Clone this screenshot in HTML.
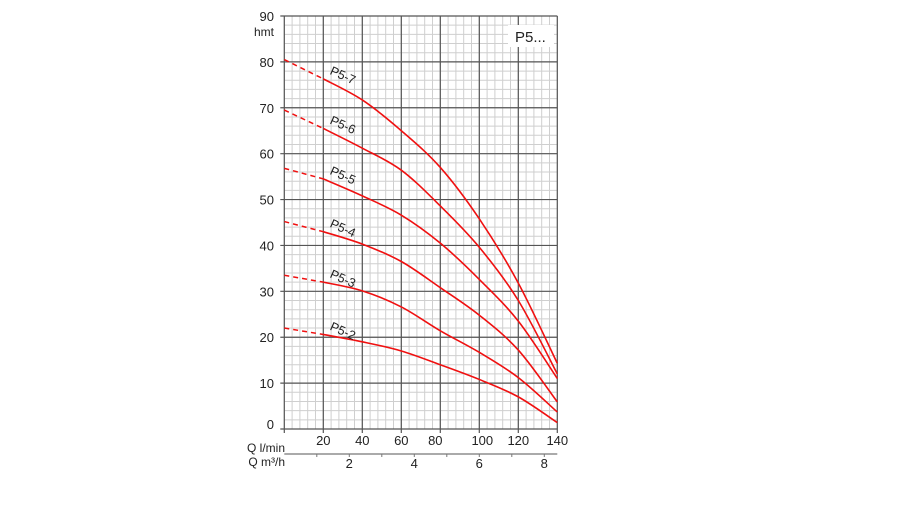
<!DOCTYPE html>
<html><head><meta charset="utf-8"><style>
body{margin:0;background:#fff;width:900px;height:506px;overflow:hidden}
text{font-family:"Liberation Sans",Arial,sans-serif;fill:#222}
</style></head><body>
<svg id="chart" width="900" height="506" viewBox="0 0 900 506" xmlns="http://www.w3.org/2000/svg">
<g id="grid"></g>
<g id="curves"></g>
<g id="axes"></g>
<rect x="508" y="25" width="46" height="22" fill="#fff"/>
<text x="515" y="42" font-size="15">P5...</text>
</svg>
<script>
const flows = [0, 20, 40, 60, 80, 100, 120, 140];
const seriesNames = ["P5-7","P5-6","P5-5","P5-4","P5-3","P5-2"];
const p57 = [80.5, 76.3, 71.7, 65.0, 57.0, 45.8, 31.8, 14.3];
const p56 = [69.5, 65.5, 61.2, 56.4, 48.6, 39.6, 28.0, 12.0];
const p55 = [56.8, 54.5, 50.8, 46.6, 40.5, 32.6, 23.5, 11.0];
const p54 = [45.2, 43.0, 40.3, 36.5, 30.8, 24.8, 17.2, 5.9];
const p53 = [33.5, 32.0, 30.1, 26.6, 21.4, 16.7, 11.2, 3.7];
const p52 = [22.0, 20.6, 19.0, 17.0, 14.0, 10.8, 7.0, 1.4];
const yTicks = [0,10,20,30,40,50,60,70,80,90];
const xTicks = [20,40,60,80,100,120,140];
const m3Ticks = [2,4,6,8];

const X0=284.3,X1=557.3,Y0=429,Y1=16;
const sx=q=>X0+(q/140)*(X1-X0);
const sy=h=>Y0-(h/90)*(Y0-Y1);
const NS="http://www.w3.org/2000/svg";
function mk(tag,attrs,parent){const e=document.createElementNS(NS,tag);for(const k in attrs)e.setAttribute(k,attrs[k]);parent.appendChild(e);return e;}
const grid=document.getElementById('grid'),curves=document.getElementById('curves'),axes=document.getElementById('axes');

for(let q=0;q<=140;q+=4){
  const l=mk('line',{x1:sx(q),x2:sx(q),y1:Y1,y2:Y0,stroke:'#cfcfcf','stroke-width':1},grid);
  
  
}
for(let h=0;h<=90;h+=2){
  const l=mk('line',{x1:X0,x2:X1,y1:sy(h),y2:sy(h),stroke:'#cfcfcf','stroke-width':1},grid);
  
  
}
for(let q=0;q<=140;q+=20){
  const l=mk('line',{x1:sx(q),x2:sx(q),y1:Y1,y2:Y0+4,stroke:'#555','stroke-width':1.2},grid);
  
  
}
yTicks.forEach(h=>{
  const l=mk('line',{x1:X0-4,x2:X1,y1:sy(h),y2:sy(h),stroke:'#555','stroke-width':1.2},grid);
  
  
  const t=mk('text',{x:274,y:sy(h)+(h==0?0:5),'text-anchor':'end','font-size':13},axes);
  t.textContent=h;
  
  
});
const hm=mk('text',{x:274,y:36,'text-anchor':'end','font-size':12},axes);hm.textContent='hmt';


xTicks.forEach(q=>{
  const t=mk('text',{x:sx(q)-(q==80?5:0)+(q==100?3:0),y:445,'text-anchor':'middle','font-size':13},axes);
  t.textContent=q;
  
  
});
const ql=mk('text',{x:285,y:452,'text-anchor':'end','font-size':12},axes);ql.textContent='Q l/min';


const qm=mk('text',{x:285,y:466,'text-anchor':'end','font-size':12},axes);qm.textContent='Q m³/h';


const ax2=mk('line',{x1:X0,x2:X1,y1:454,y2:454,stroke:'#777','stroke-width':1.2},axes);


for(let m=1;m<=8;m++){
  const x=sx(m*1000/60);
  const tk=mk('line',{x1:x,x2:x,y1:454,y2:457,stroke:'#777'},axes);
  
  
}
m3Ticks.forEach(m=>{
  const t=mk('text',{x:sx(m*1000/60),y:468,'text-anchor':'middle','font-size':13},axes);
  t.textContent=m;
  
  
});

function smooth(pts){
  let d='M'+pts[0][0]+','+pts[0][1];
  for(let i=0;i<pts.length-1;i++){
    const p0=pts[Math.max(i-1,0)],p1=pts[i],p2=pts[i+1],p3=pts[Math.min(i+2,pts.length-1)];
    const c1=[p1[0]+(p2[0]-p0[0])/6,p1[1]+(p2[1]-p0[1])/6];
    const c2=[p2[0]-(p3[0]-p1[0])/6,p2[1]-(p3[1]-p1[1])/6];
    d+=' C'+c1[0]+','+c1[1]+' '+c2[0]+','+c2[1]+' '+p2[0]+','+p2[1];
  }
  return d;
}
[p57,p56,p55,p54,p53,p52].forEach((vals,i)=>{
  const pts=flows.map((q,j)=>[sx(q),sy(vals[j])]);
  const dash=mk('path',{d:'M'+pts[0][0]+','+pts[0][1]+' L'+pts[1][0]+','+pts[1][1],fill:'none',stroke:'#f01010','stroke-width':1.5,'stroke-dasharray':'5,4'},curves);
  
  
  const p=mk('path',{d:smooth(pts.slice(1)),fill:'none',stroke:'#f01010','stroke-width':1.6},curves);
  
  
  const lx=sx(23),ly=sy(vals[1])-5;
  const t=mk('text',{x:lx,y:ly,'font-size':12.5,transform:'rotate(24 '+lx+' '+ly+')'},curves);
  t.textContent=seriesNames[i];
  
  
});
</script>
</body></html>
